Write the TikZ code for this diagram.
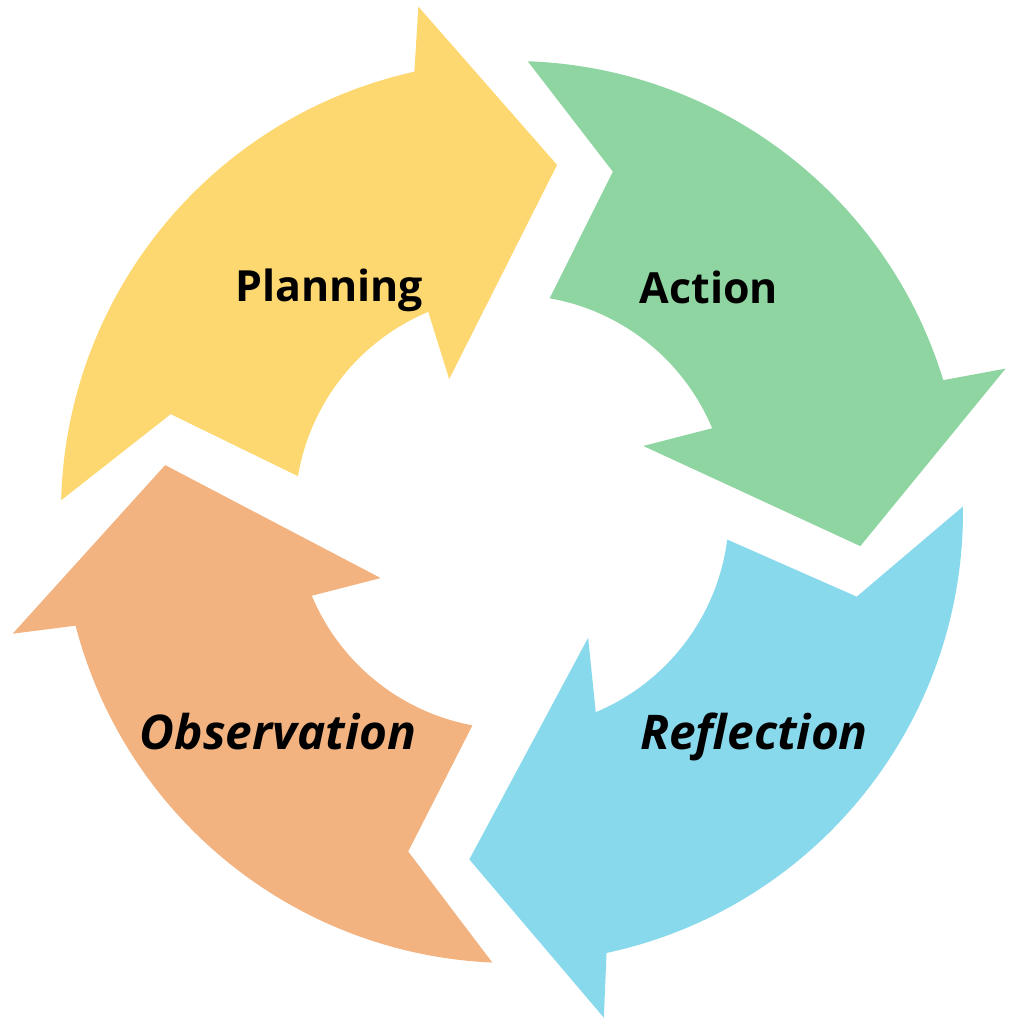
\documentclass[tikz,border=0pt]{standalone}
\usepackage{fontspec}
\setmainfont{Open Sans}
\definecolor{planfill}{RGB}{253,216,112}
\definecolor{actfill}{RGB}{142,213,161}
\definecolor{reflfill}{RGB}{137,217,237}
\definecolor{obsfill}{RGB}{242,179,128}
\tikzset{
  lbl/.style={anchor=base, inner sep=0pt, font=\bfseries\fontsize{12.2}{14}\selectfont},
  itlbl/.style={anchor=base, inner sep=0pt, font=\bfseries\itshape\fontsize{13.6}{16}\selectfont}
}
\begin{document}
\begin{tikzpicture}[x=0.01cm, y=-0.01cm, line join=round]
\def\rin{217}
\def\rout{451}
\useasboundingbox (-512,-512) rectangle (512,512);
% four curved arrows, clockwise: base angle, colour, tail shift, inner barb, tip, outer barb, neck
\foreach \a/\col/\ts/\ib/\tp/\ob/\oe in {180/planfill/0/64.7/97.4/79.5/77.5, 270/actfill/0.5/63.3/95.6/73.8/73,
    0/reflfill/-2.2/58.8/97/79.7/77.9, 90/obsfill/1/63.3/97.7/76.3/75.4}
  \fill[\col] ({\a+\ts+1.5}:\rout) -- ({\a+\ts+16}:355) -- ({\a+\ts+9.5}:\rin)
    arc[start angle=\a+\ts+9.5, end angle=\a+67.3, radius=\rin]
    -- ({\a+\ib}:147) -- ({\a+\tp}:350) -- ({\a+\ob}:514) -- ({\a+\oe}:\rout)
    arc[start angle=\a+\oe, end angle=\a+\ts+1.5, radius=\rout] -- cycle;
\node[lbl] (plan) at (-183,-210) {Planning};
\node[lbl] (act) at (197,-208) {Action};
\node[itlbl] (obs) at (-234,237) {Observation};
\node[itlbl] (refl) at (242,237) {Reflection};
\end{tikzpicture}
\end{document}
